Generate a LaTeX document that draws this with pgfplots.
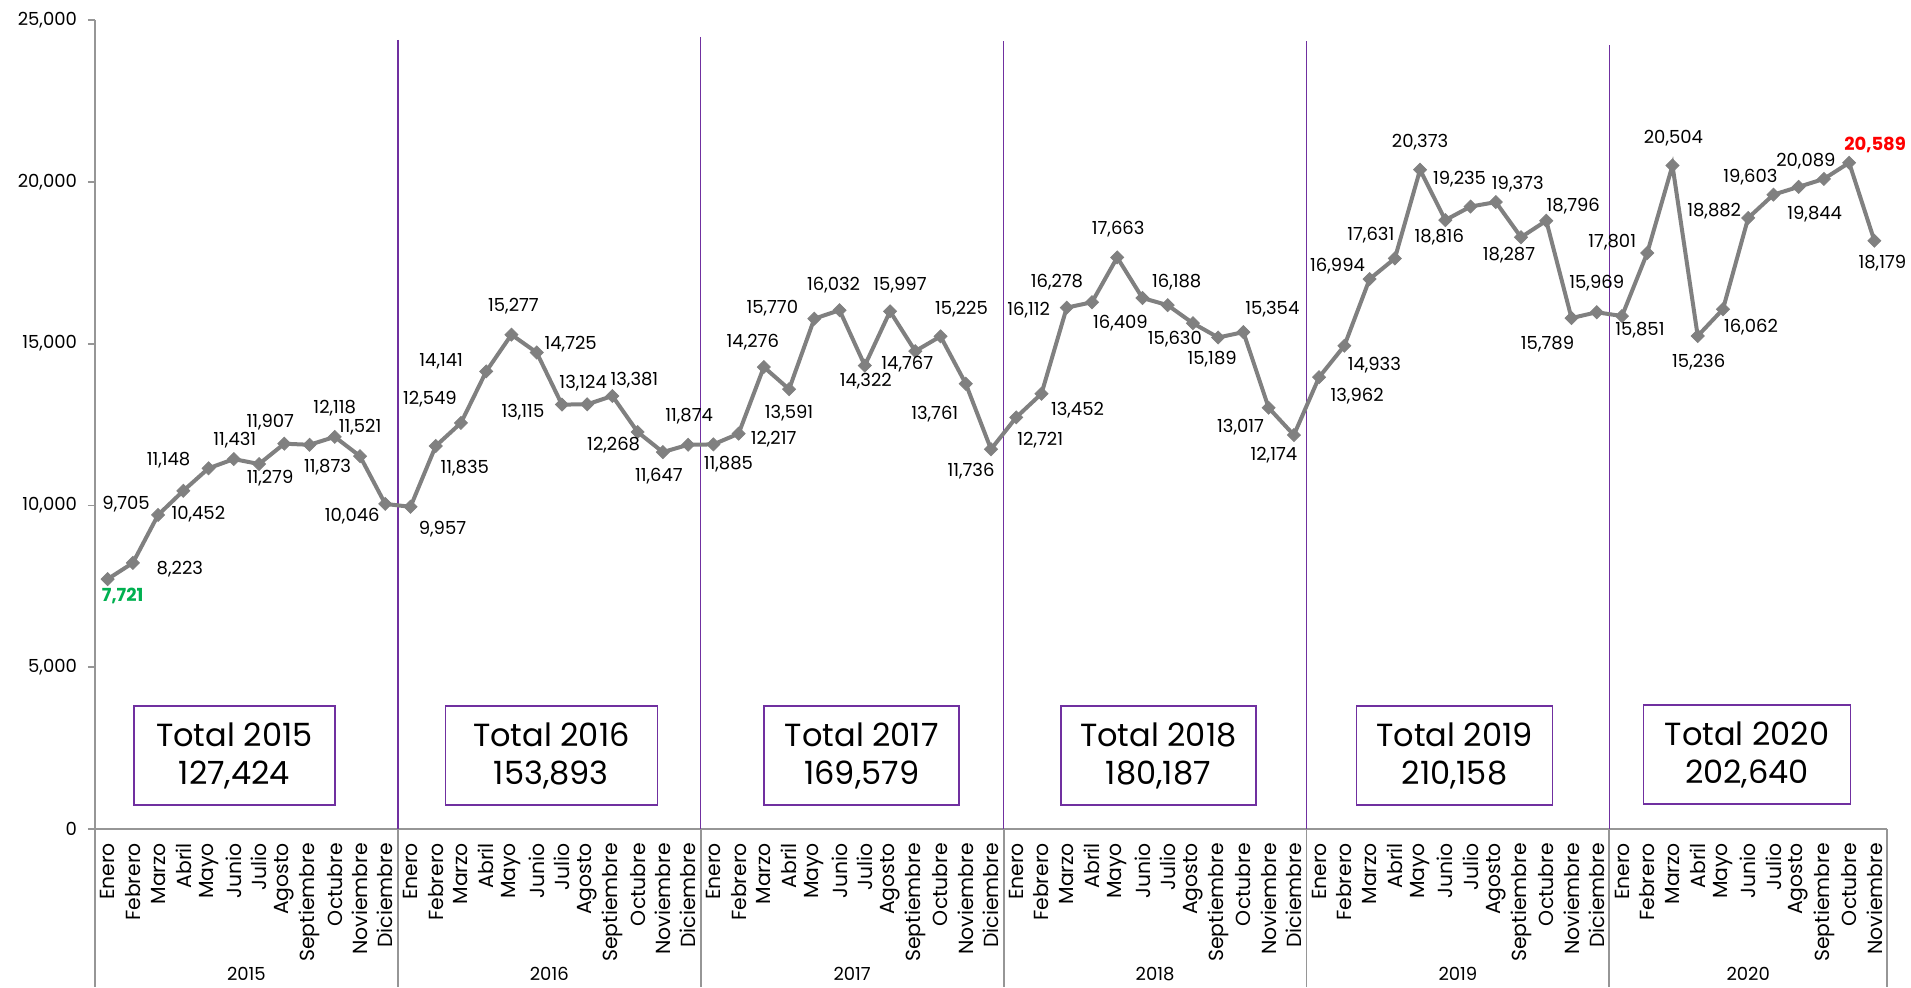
\documentclass[border=0pt]{standalone}
\usepackage{fontspec}
\setmainfont{Poppins}[Numbers=Proportional]
\usepackage{pgfplots}
\usepackage{pgfplotstable}
\pgfplotsset{compat=1.18}
\definecolor{linegray}{RGB}{128,128,128}
\definecolor{axgray}{RGB}{150,150,150}
\definecolor{sep}{RGB}{112,48,160}
\definecolor{lgreen}{RGB}{0,176,80}
\definecolor{lred}{RGB}{255,0,0}

% i = month index, v = value, dx/dy = label offset (px), st = label style
\pgfplotstableread{
i  v     dx  dy  st
0  7721  15  -17 1
1  8223  47  -6  0
2  9705  -32 11  0
3  10452 15  -23 0
4  11148 -40 8   0
5  11431 1   19  0
6  11279 11  -14 0
7  11907 -14 22  0
8  11873 18  -22 0
9  12118 0   29  0
10 11521 0   29  0
11 10046 -33 -12 0
12 9957  32  -22 0
13 11835 29  -22 0
14 12549 -31 24  0
15 14141 -45 10  0
16 15277 2   28  0
17 14725 34  8   0
18 13115 -39 -8  0
19 13124 -4  21  0
20 13381 22  16  0
21 12268 -24 -13 0
22 11647 -4  -24 0
23 11874 1   29  0
24 11885 15  -20 0
25 12217 35  -5  0
26 14276 -11 25  0
27 13591 0   -24 0
28 15770 -42 11  0
29 16032 -6  25  0
30 14322 1   -16 0
31 15997 10  26  0
32 14767 -8  -13 0
33 15225 21  27  0
34 13761 -31 -30 0
35 11736 -20 -22 0
36 12721 24  -23 0
37 13452 36  -16 0
38 16112 -38 -3  0
39 16278 -35 20  0
40 17663 1   28  0
41 16409 -22 -25 0
42 16188 9   23  0
43 15630 -18 -16 0
44 15189 -6  -22 0
45 15354 29  23  0
46 13017 -28 -19 0
47 12174 -20 -20 0
48 13962 38  -19 0
49 14933 30  -19 0
50 16994 -32 13  0
51 17631 -24 23  0
52 20373 0   28  0
53 18816 -6  -17 0
54 19235 -11 27  0
55 19373 22  18  0
56 18287 -12 -18 0
57 18796 27  15  0
58 15789 -24 -26 0
59 15969 0   29  0
60 15851 18  -14 0
61 17801 -35 11  0
62 20504 1   27  0
63 15236 1   -26 0
64 16062 28  -18 0
65 18882 -34 7   0
66 19603 -23 18  0
67 19844 16  -27 0
68 20089 -18 18  0
69 20589 26  18  2
70 18179 8   -22 0
}\ventas

\newcommand{\lblfont}{\fontsize{9}{10.5}\selectfont}
\newcommand{\mesfont}{\fontsize{10.2}{12}\selectfont}
\newcommand{\lblcolor}[1]{%
  \ifdim#1pt<0.5pt\relax\else\ifdim#1pt<1.5pt\relax\color{lgreen}\bfseries\else\color{lred}\bfseries\fi\fi}

\begin{document}
\begin{tikzpicture}
\begin{axis}[
  at={(0,0)}, anchor=south west,
  scale only axis, width=896pt, height=404.5pt,
  xmin=-0.5, xmax=70.5, ymin=0, ymax=25000,
  clip=false,
  axis lines*=left,
  axis line style={-, draw=axgray, line width=0.9pt},
  tick align=outside, major tick length=3.5pt,
  ytick={0,5000,10000,15000,20000,25000},
  y tick style={draw=axgray, line width=0.9pt},
  x tick style={draw=none},
  /pgf/number format/.cd, 1000 sep={,}, assume math mode=true, /pgfplots/.cd,
  yticklabel style={font=\lblfont, xshift=-2pt},
  scaled y ticks=false,
  xtick={0,...,70},
  xticklabel style={font=\mesfont, rotate=90, anchor=east},
  xticklabels={
    Enero,Febrero,Marzo,Abril,Mayo,Junio,Julio,Agosto,Septiembre,Octubre,Noviembre,Diciembre,
    Enero,Febrero,Marzo,Abril,Mayo,Junio,Julio,Agosto,Septiembre,Octubre,Noviembre,Diciembre,
    Enero,Febrero,Marzo,Abril,Mayo,Junio,Julio,Agosto,Septiembre,Octubre,Noviembre,Diciembre,
    Enero,Febrero,Marzo,Abril,Mayo,Junio,Julio,Agosto,Septiembre,Octubre,Noviembre,Diciembre,
    Enero,Febrero,Marzo,Abril,Mayo,Junio,Julio,Agosto,Septiembre,Octubre,Noviembre,Diciembre,
    Enero,Febrero,Marzo,Abril,Mayo,Junio,Julio,Agosto,Septiembre,Octubre,Noviembre},
]
% year separators
\draw[sep, line width=0.7pt] (axis cs:11.5,24382) -- ([yshift=-4pt]axis cs:11.5,0);
\draw[sep, line width=0.7pt] (axis cs:23.5,24475) -- ([yshift=-4pt]axis cs:23.5,0);
\draw[sep, line width=0.7pt] (axis cs:35.5,24351) -- ([yshift=-4pt]axis cs:35.5,0);
\draw[sep, line width=0.7pt] (axis cs:47.5,24351) -- ([yshift=-4pt]axis cs:47.5,0);
\draw[sep, line width=0.7pt] (axis cs:59.5,24227) -- ([yshift=-4pt]axis cs:59.5,0);
\pgfplotsinvokeforeach{-0.5,11.5,23.5,35.5,47.5,59.5,70.5}{
  \draw[axgray, line width=0.9pt] (axis cs:#1,0) -- ([yshift=-79pt]axis cs:#1,0);
}
\addplot[draw=linegray, line width=2pt,
  mark=square*, mark size=2.3pt,
  mark options={rotate=45, fill=linegray, draw=linegray, line width=0.4pt},
  visualization depends on={\thisrow{dx} \as \dx},
  visualization depends on={\thisrow{dy} \as \dy},
  visualization depends on={\thisrow{st} \as \st},
  nodes near coords={\lblcolor{\st}\pgfmathprintnumber{\pgfplotspointmeta}},
  every node near coord/.append style={font=\lblfont, anchor=center,
    xshift={\dx*0.5pt}, yshift={\dy*0.5pt}, inner sep=0pt},
] table[x=i, y=v] {\ventas};

% totals
\tikzset{tot/.style={draw=sep, line width=0.8pt, fill=white, align=center,
  font=\fontsize{16}{19}\selectfont, minimum height=49.5pt, inner sep=0pt}}
\node[tot, minimum width=100.5pt] at (axis cs:5.02,2271) {Total 2015\\127,424};
\node[tot, minimum width=106pt]   at (axis cs:17.58,2271) {Total 2016\\153,893};
\node[tot, minimum width=97.5pt]  at (axis cs:29.88,2271) {Total 2017\\169,579};
\node[tot, minimum width=97.5pt]  at (axis cs:41.63,2271) {Total 2018\\180,187};
\node[tot, minimum width=98pt]    at (axis cs:53.36,2271) {Total 2019\\210,158};
\node[tot, minimum width=103.5pt] at (axis cs:64.95,2300) {Total 2020\\202,640};

% year labels
\node[font=\lblfont] at ([yshift=-72.5pt]axis cs:5.5,0) {2015};
\node[font=\lblfont] at ([yshift=-72.5pt]axis cs:17.5,0) {2016};
\node[font=\lblfont] at ([yshift=-72.5pt]axis cs:29.5,0) {2017};
\node[font=\lblfont] at ([yshift=-72.5pt]axis cs:41.5,0) {2018};
\node[font=\lblfont] at ([yshift=-72.5pt]axis cs:53.5,0) {2019};
\node[font=\lblfont] at ([yshift=-72.5pt]axis cs:65,0) {2020};
\end{axis}
\pgfresetboundingbox
\path[use as bounding box] (-47.5pt,-79pt) rectangle (908pt,414.5pt);
\end{tikzpicture}
\end{document}
